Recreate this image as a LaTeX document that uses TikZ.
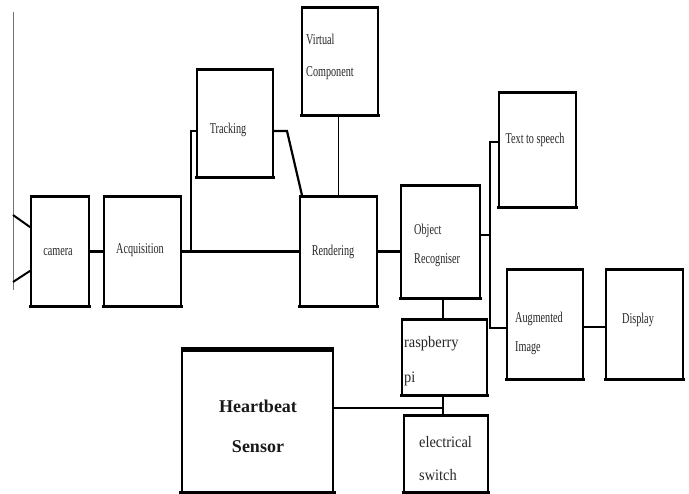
\documentclass[tikz,border=0pt]{standalone}
\usepackage{fontspec}
\setmainfont{Liberation Serif}
\newfontfamily\condfont[FakeStretch=0.68]{Liberation Serif}
\newfontfamily\midfont[FakeStretch=0.9]{Liberation Serif}
\newcommand\tbedges[2][3.2pt]{\draw[line width=#1, shorten <=-0.8pt, shorten >=-0.8pt] (#2.north west) -- (#2.north east) (#2.south west) -- (#2.south east);}
\begin{document}
\begin{tikzpicture}[x=1pt,y=-1pt,
 box/.style={draw, line width=1.6pt, inner sep=0pt},
 lbl/.style={font=\condfont\fontsize{15}{15}\selectfont, inner sep=0pt, text=black!85},
 biglbl/.style={inner sep=0pt, text=black!85, align=left},
 conn/.style={line width=2.2pt},
 thinconn/.style={line width=1.3pt}]
\useasboundingbox (0,0) rectangle (689,494);
\fill[white] (0,0) rectangle (689,494);

% left edge
\coordinate (e1) at (13,12);
\coordinate (e2) at (13,290);
\draw[line width=0.8pt, black!55] (e1) -- (e2);

% boxes
\node[box, minimum width=58pt, minimum height=109pt] (cam) at (60,251.5) {};
\node[box, minimum width=77pt, minimum height=109pt] (acq) at (142.5,251.5) {};
\node[box, minimum width=76pt, minimum height=107pt] (trk) at (235,123.5) {};
\node[box, minimum width=76pt, minimum height=107pt] (vir) at (340,61.5) {};
\node[box, minimum width=77pt, minimum height=109pt] (ren) at (338.5,251.5) {};
\node[box, minimum width=79pt, minimum height=112pt] (obj) at (440.5,242) {};
\node[box, minimum width=77pt, minimum height=114pt] (tts) at (537.5,150) {};
\node[box, minimum width=76pt, minimum height=109pt] (aug) at (545,324.5) {};
\node[box, minimum width=77pt, minimum height=109pt] (dis) at (644.5,324.5) {};
\node[box, minimum width=85pt, minimum height=75pt] (ras) at (444.5,357.5) {};
\node[box, minimum width=84pt, minimum height=76pt] (sw) at (446,454) {};
\node[box, line width=2.8pt, minimum width=151pt, minimum height=141pt] (hb) at (257.5,421.5) {};

\foreach \n in {cam,acq,trk,vir,ren,obj,tts,aug,dis,ras,sw}{\tbedges{\n}}
\draw[line width=5pt, shorten <=-1.4pt, shorten >=-1.4pt] (hb.north west) -- (hb.north east) (hb.south west) -- (hb.south east);

% camera lens (trapezoid)
\coordinate (l1) at (13,215);
\coordinate (l2) at (13,282);
\draw[line width=2pt] (l1) -- ([yshift=-31pt]cam.north west);
\draw[line width=2pt] (l2) -- ([yshift=36pt]cam.south west);

% labels
\node[lbl] (tcam) at (58,252) {camera};
\node[lbl] (tacq) at (140,250) {Acquisition};
\node[lbl] (ttrk) at (228,130) {Tracking};
\node[lbl, anchor=west, align=left, font=\condfont\fontsize{15}{32}\selectfont] (tvir) at (306,57) {Virtual\\Component};
\node[lbl] (tren) at (333,252) {Rendering};
\node[lbl, anchor=west, align=left, font=\condfont\fontsize{15}{29}\selectfont] (tobj) at (414,245) {Object\\Recogniser};
\node[lbl] (ttts) at (535,140) {Text to speech};
\node[lbl, anchor=west, align=left, font=\condfont\fontsize{15}{29}\selectfont] (taug) at (515,333) {Augmented\\Image};
\node[lbl] (tdis) at (638,320) {Display};
\node[biglbl, anchor=west, font=\midfont\fontsize{16}{35}\selectfont] (tras) at (404,361) {raspberry\\pi};
\node[biglbl, anchor=west, font=\midfont\fontsize{16}{33}\selectfont] (tsw) at (419,459) {electrical\\switch};
\node[inner sep=0pt, align=center, text=black!90, font=\bfseries\fontsize{18}{40}\selectfont] (thb) at (258,426) {Heartbeat\\Sensor};

% connectors
\coordinate (j1) at (191,251.5);
\coordinate (j2) at (287,131);
\coordinate (b1) at (490,142);
\coordinate (b2) at (490,328);
\coordinate (v1) at (443,408);

\draw[conn] (cam) -- (acq);
\draw[conn] (acq) -- (ren);
\draw[conn] (j1) |- ([yshift=-7.5pt]trk.west);
\draw[conn] ([yshift=-7.5pt]trk.east) -- (j2) -- ([xshift=3pt]ren.north west);
\draw[thinconn] (ren.north |- vir.south) -- (ren.north);
\draw[conn] (ren.east) -- (ren.east -| obj.west);
\draw[conn] ([yshift=7pt]obj.east) -- ([yshift=7pt]obj.east -| b1);
\draw[thinconn] (tts.west |- b1) -- (b1) -- (b2) -- (b2 -| aug.west);
\draw[conn] ([yshift=-2.5pt]aug.east) -- ([yshift=-2.5pt]dis.west);
\draw[thinconn] (obj.south -| v1) -- (ras.north -| v1);
\draw[thinconn] (ras.south -| v1) -- (sw.north -| v1);
\draw[thinconn] (hb.east |- v1) -- (v1);
\end{tikzpicture}
\end{document}
